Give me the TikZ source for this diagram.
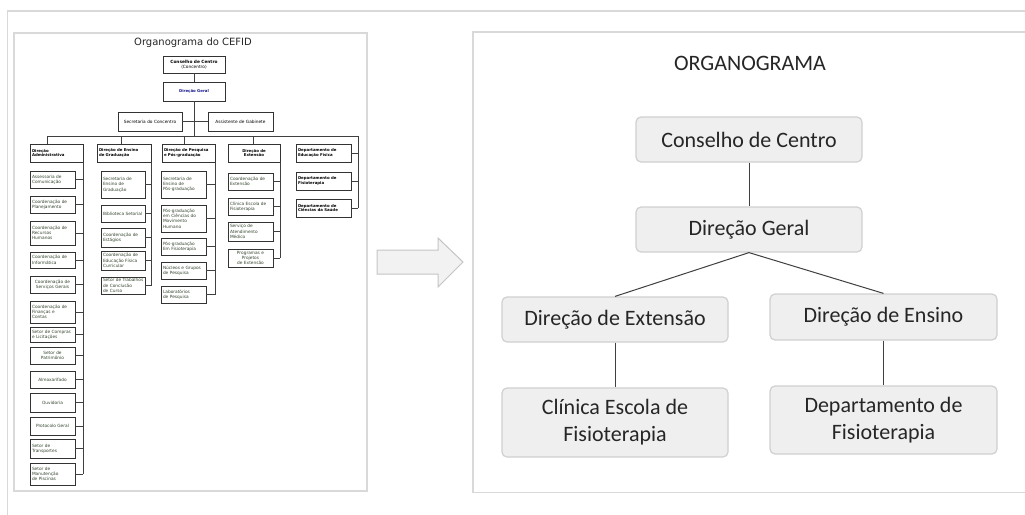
\documentclass[tikz,border=0pt]{standalone}
\usepackage{fontspec}
\setmainfont{Carlito}
\newfontfamily\vfont{DejaVu Sans}
\definecolor{boxfill}{HTML}{EFEFEF}
\definecolor{boxdraw}{HTML}{D0D0D0}
\definecolor{linec}{HTML}{404040}
\definecolor{framec}{HTML}{D9D9D9}
\definecolor{txtc}{HTML}{262626}
\definecolor{chtxt}{HTML}{34452E}
\definecolor{navyc}{HTML}{1A1A8C}
\definecolor{arrfill}{HTML}{F2F2F2}
\definecolor{arrdraw}{HTML}{C4C4C4}
\tikzset{
 rbox/.style={draw=boxdraw, fill=boxfill, rounded corners=5pt, line width=1.2pt,
   font=\fontsize{22}{27}\selectfont, text=txtc, align=center, inner sep=0pt},
 rline/.style={draw=linec, line width=1pt},
 lbox/.style={draw=black!80, line width=0.6pt, inner xsep=2pt, inner ysep=0pt,
   font=\vfont\fontsize{4.3}{5.3}\selectfont, text=chtxt},
 lhead/.style={font=\vfont\bfseries\fontsize{3.9}{4.8}\selectfont, text=black},
 lline/.style={draw=black!75, line width=0.6pt},
 frameline/.style={draw=framec, line width=1.3pt},
}
\newcommand{\lbx}[7][]{%
 \pgfmathsetmacro\mylw{#5-#3}\pgfmathsetmacro\mylh{#6-#4}\pgfmathsetmacro\mylt{#5-#3-4}%
 \pgfmathsetmacro\mylcx{(#3+#5)/2}\pgfmathsetmacro\mylcy{(#4+#6)/2}%
 \node[lbox, minimum width=\mylw pt, minimum height=\mylh pt, text width=\mylt pt, align=left, #1] (#2) at (\mylcx,\mylcy) {#7};}
\begin{document}
\hyphenpenalty=10000
\exhyphenpenalty=10000
\begin{tikzpicture}[x=1pt,y=-1pt]
\useasboundingbox (0,0) rectangle (1025,514);
\clip (0,0) rectangle (1025,514);
\fill[white] (0,0) rectangle (1025,514);
% outer frame
\draw[frameline] (7.5,600) -- (7.5,11) -- (1100,11);
% left panel
\draw[frameline] (14,33) rectangle (367,491);
% right panel
\draw[frameline] (1100,32) -- (473,32) -- (473,492.5) -- (1100,492.5);
% arrow
\draw[draw=arrdraw, fill=arrfill, line width=1pt]
  (377,250) -- (438,250) -- (438,238) -- (463,262) -- (438,287) -- (438,274) -- (377,274) -- cycle;

% ===== right chart =====
\node[font=\fontsize{22}{27}\selectfont, text=txtc] (rtitle) at (750,63) {ORGANOGRAMA};
\node[rbox, minimum width=226pt, minimum height=45pt] (cons) at (749,139.5) {Conselho de Centro};
\node[rbox, minimum width=226pt, minimum height=45pt] (geral) at (749,229.5) {Direção Geral};
\node[rbox, minimum width=226pt, minimum height=45pt] (ext) at (615,319.5) {Direção de Extensão};
\node[rbox, minimum width=227pt, minimum height=46pt] (ens) at (883.5,317) {Direção de Ensino};
\node[rbox, minimum width=226pt, minimum height=69pt] (clin) at (615,422.5) {Clínica Escola de\\Fisioterapia};
\node[rbox, minimum width=227pt, minimum height=68pt] (dep) at (883.5,420) {Departamento de\\Fisioterapia};
\draw[rline] (cons.south) -- (geral.north);
\draw[rline] (geral.south) -- (ext.north);
\draw[rline] (geral.south) -- (ens.north);
\draw[rline] (ext.south) -- (clin.north);
\draw[rline] (ens.south) -- (dep.north);

% ===== left chart =====
\node[font=\vfont\fontsize{10}{12}\selectfont, text=black!85] (ltitle) at (193,43) {Organograma do CEFID};
\lbx[align=center, text=black]{lcons}{163}{56}{225}{73}{{\bfseries Conselho de Centro}\\(Concentro)}
\lbx[align=center, lhead, text=navyc]{lger}{163}{82}{225}{101}{Direção Geral}
\lbx[align=center, text=black]{lsec}{118}{112}{182}{131}{Secretaria do Concentro}
\lbx[align=center, text=black]{lass}{208}{112}{273}{131}{Assistente de Gabinete}
\draw[lline] (lcons.south) -- (lger.north);
\draw[lline] (lsec.east) -- (lass.west);
\coordinate (dA) at (47,136);
\coordinate (dG) at (121,136);
\coordinate (dP) at (184,136);
\coordinate (dE) at (253,136);
\coordinate (busR) at (358,136);
\draw[lline] (lger.south) -- (lger.south |- dA);
\draw[lline] (dA) -- (busR);
% headers
\lbx[lhead]{hadm}{30}{144}{83}{162}{Direção\\Administrativa}
\lbx[lhead]{hgrad}{97}{144}{151}{162}{Direção de Ensino\\de Graduação}
\lbx[lhead]{hpesq}{162}{144}{215}{162}{Direção de Pesquisa\\e Pós-graduação}
\lbx[lhead, align=center]{hext}{228}{144}{280}{162}{Direção de\\Extensão}
\draw[lline] (dA) -- (dA |- hadm.north);
\draw[lline] (dG) -- (dG |- hgrad.north);
\draw[lline] (dP) -- (dP |- hpesq.north);
\draw[lline] (dE) -- (dE |- hext.north);
% admin column
\lbx{a1}{30}{171}{75}{188}{Assessoria de\\Comunicação}
\lbx{a2}{30}{196}{75}{213}{Coordenação de\\Planejamento}
\lbx{a3}{30}{221}{75}{245}{Coordenação de\\Recursos\\Humanos}
\lbx{a4}{30}{252}{75}{268}{Coordenação de\\Informática}
\lbx[align=center]{a5}{30}{276}{75}{293}{Coordenação de\\Serviços Gerais}
\lbx{a6}{30}{301}{75}{323}{Coordenação de\\Finanças e\\Contas}
\lbx{a7}{30}{327}{75}{342}{Setor de Compras\\e Licitações}
\lbx[align=center]{a8}{30}{347}{75}{364}{Setor de\\Patrimônio}
\lbx[align=center]{a9}{30}{371}{75}{388}{Almoxarifado}
\lbx[align=center]{a10}{30}{393}{75}{412}{Ouvidoria}
\lbx[align=center]{a11}{30}{417}{75}{435}{Protocolo Geral}
\lbx{a12}{30}{439}{75}{458}{Setor de\\Transportes}
\lbx{a13}{30}{463}{75}{485}{Setor de\\Manutenção\\de Piscinas}
\draw[lline] (hadm.south east) -- (a13.east -| hadm.south east);
\foreach \c in {a1,a2,a3,a4,a5,a6,a7,a8,a9,a10,a11,a12,a13}
  \draw[lline] (\c.east) -- (\c.east -| hadm.south east);
% graduacao column
\lbx{g1}{101}{171}{145}{198}{Secretaria de\\Ensino de\\Graduação}
\lbx{g2}{101}{205}{145}{222}{Biblioteca Setorial}
\lbx{g3}{101}{228}{145}{247}{Coordenação de\\Estágios}
\lbx{g4}{101}{251}{145}{270}{Coordenação de\\Educação Física\\Curricular}
\lbx{g5}{101}{277}{145}{294}{\mbox{Setor de Trabalhos}\\de Conclusão\\de Curso}
\draw[lline] (hgrad.south east) -- (g5.east -| hgrad.south east);
\foreach \c in {g1,g2,g3,g4,g5}
  \draw[lline] (\c.east) -- (\c.east -| hgrad.south east);
% pesquisa column
\lbx{p1}{161}{171}{206}{198}{Secretaria de\\Ensino de\\Pós-graduação}
\lbx{p2}{161}{205}{206}{232}{Pós-graduação\\em Ciências do\\Movimento\\Humano}
\lbx{p3}{161}{238}{206}{255}{Pós-graduação\\Em Fisioterapia}
\lbx{p4}{161}{262}{206}{279}{Núcleos e Grupos\\de Pesquisa}
\lbx{p5}{161}{286}{206}{303}{Laboratórios\\de Pesquisa}
\draw[lline] (hpesq.south east) -- (p5.east -| hpesq.south east);
\foreach \c in {p1,p2,p3,p4,p5}
  \draw[lline] (\c.east) -- (\c.east -| hpesq.south east);
% extensao column
\lbx{e1}{228}{173}{273}{190}{Coordenação de\\Extensão}
\lbx{e2}{228}{198}{273}{215}{Clínica Escola de\\Fisioterapia}
\lbx{e3}{228}{222}{273}{241}{Serviço de\\Atendimento\\Médico}
\lbx[align=center]{e4}{228}{249}{273}{267}{Programas e\\Projetos\\de Extensão}
\draw[lline] (hext.south east) -- (e4.east -| hext.south east);
\foreach \c in {e1,e2,e3,e4}
  \draw[lline] (\c.east) -- (\c.east -| hext.south east);
% departamentos column
\lbx[lhead]{d1}{296}{144}{351}{162}{Departamento de\\Educação Física}
\lbx[lhead]{d2}{296}{172}{351}{190}{Departamento de\\Fisioterapia}
\lbx[lhead]{d3}{296}{199}{351}{217}{Departamento de\\Ciências da Saúde}
\draw[lline] (busR) -- (d3.east -| busR);
\foreach \c in {d1,d2,d3}
  \draw[lline] (\c.east) -- (\c.east -| busR);
\end{tikzpicture}
\end{document}
